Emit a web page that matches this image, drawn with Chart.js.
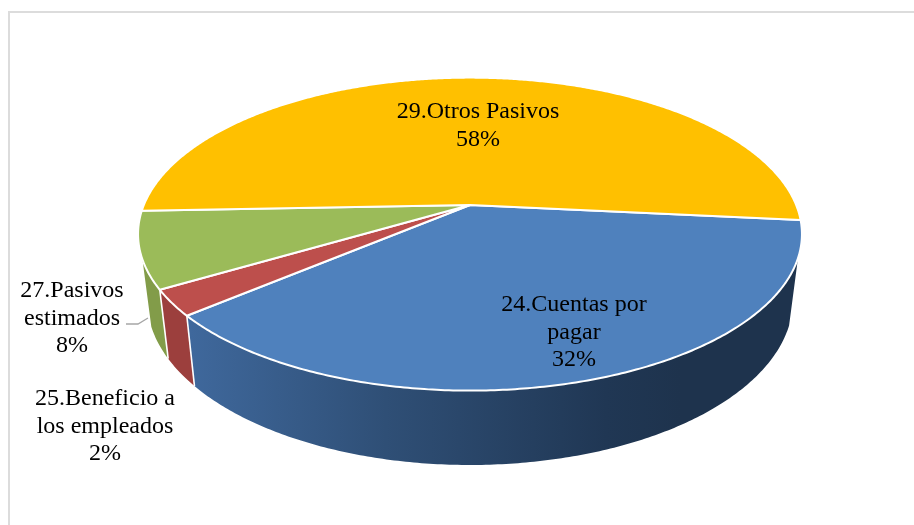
<!DOCTYPE html>
<html>
<head>
<meta charset="utf-8">
<style>
  html, body { margin: 0; background: #fff; }
  canvas { display: block; }
</style>
<script src="https://cdn.jsdelivr.net/npm/chart.js@4/dist/chart.umd.min.js"></script>
</head>
<body>
<canvas id="chart" width="914" height="525"></canvas>
<script>
// --- Data ---
const categories = ['24.Cuentas por pagar', '25.Beneficio a los empleados', '27.Pasivos estimados', '29.Otros Pasivos'];
// the picture only prints rounded percents, so the decimals are estimated from the slices
const shares = [31.9, 2.49, 7.8, 57.81];
const faceColors = ['#4f81bd', '#bd4f4c', '#9bbb59', '#ffc000'];
const wallColors = ['#1f3450', '#9c3f3d', '#829c49', '#bf9000'];
const labelLines = [['24.Cuentas por', 'pagar'], ['25.Beneficio a', 'los empleados'], ['27.Pasivos', 'estimados'], ['29.Otros Pasivos']];

// --- Layout (pixels) ---
const labelAnchors = [[574, 311], [105, 405], [72, 297], [478, 118]];
const LINE_HEIGHT = 27.6;
const FONT = '24px "Liberation Serif"';

// Perspective of the tilted disc, in units of the pie radius
const TILT = 0.186;
const TOP_RIM = { ax: 1.591, by: 0.737, dy: 0 };
const BOTTOM_RIM = { ax: 1.548, by: 0.777, dy: 0.3137 };
const WALL_MIN_SIN = 0.33; // wall is hidden behind the top face above this line

// Excel stretches the front of the pie and squeezes the back (degrees)
function viewAngle(theta) {
  const deg = 14.6 - 8.97 * Math.cos(theta) + 7.29 * Math.sin(theta);
  return theta + deg * Math.PI / 180;
}

function rimPoint(el, theta, rim) {
  const phi = viewAngle(theta);
  const u = Math.cos(phi);
  const v = Math.sin(phi);
  const w = 1 - TILT * v;
  const r = el.outerRadius;
  return [el.x + r * rim.ax * u / w, el.y + r * rim.dy + r * rim.by * v / w];
}

function sliceAngles(el) {
  const list = [];
  const steps = Math.max(2, Math.ceil((el.endAngle - el.startAngle) * 360 / Math.PI));
  for (let i = 0; i <= steps; i++) {
    list.push(el.startAngle + (el.endAngle - el.startAngle) * i / steps);
  }
  return list;
}

// --- Slice top face, drawn by the library's own arc pass ---
Chart.ArcElement.prototype.draw = function (ctx) {
  ctx.save();
  ctx.beginPath();
  ctx.moveTo(this.x, this.y);
  sliceAngles(this).forEach(t => {
    const p = rimPoint(this, t, TOP_RIM);
    ctx.lineTo(p[0], p[1]);
  });
  ctx.closePath();
  ctx.fillStyle = this.options.backgroundColor;
  ctx.fill();
  ctx.strokeStyle = '#fff';
  ctx.lineWidth = 2;
  ctx.lineJoin = 'round';
  ctx.stroke();
  ctx.restore();
};

// --- Side walls, frame, labels ---
const pie3d = {
  id: 'pie3d',
  beforeDraw(chart) {
    const ctx = chart.ctx;
    ctx.save();
    ctx.strokeStyle = '#dcdcdc';
    ctx.lineWidth = 2;
    ctx.beginPath();
    ctx.moveTo(9, 525);
    ctx.lineTo(9, 12);
    ctx.lineTo(914, 12);
    ctx.stroke();
    ctx.restore();
  },
  beforeDatasetsDraw(chart) {
    const ctx = chart.ctx;
    const arcs = chart.getDatasetMeta(0).data;
    ctx.save();
    arcs.forEach((el, i) => {
      const angles = sliceAngles(el).filter(t => Math.sin(viewAngle(t)) > WALL_MIN_SIN);
      if (angles.length < 2) return;
      const top = angles.map(t => rimPoint(el, t, TOP_RIM));
      const bottom = angles.map(t => rimPoint(el, t, BOTTOM_RIM)).reverse();
      ctx.beginPath();
      top.concat(bottom).forEach((p, j) => j ? ctx.lineTo(p[0], p[1]) : ctx.moveTo(p[0], p[1]));
      ctx.closePath();
      if (i === 0) {
        const g = ctx.createLinearGradient(190, 0, 680, 0);
        g.addColorStop(0, '#3f689c');
        g.addColorStop(0.4, '#2f4f76');
        g.addColorStop(0.85, '#203754');
        g.addColorStop(1, '#1e334d');
        ctx.fillStyle = g;
      } else {
        ctx.fillStyle = wallColors[i];
      }
      ctx.fill();
    });
    // white seams between the wall pieces
    ctx.strokeStyle = '#fff';
    ctx.lineWidth = 1.6;
    arcs.slice(0, 2).forEach(el => {
      const a = rimPoint(el, el.endAngle, TOP_RIM);
      const b = rimPoint(el, el.endAngle, BOTTOM_RIM);
      ctx.beginPath();
      ctx.moveTo(a[0], a[1]);
      ctx.lineTo(b[0], b[1]);
      ctx.stroke();
    });
    ctx.restore();
  },
  afterDatasetsDraw(chart) {
    const ctx = chart.ctx;
    ctx.save();
    // leader line for 27.Pasivos estimados
    ctx.strokeStyle = '#a6a6a6';
    ctx.lineWidth = 1.3;
    ctx.beginPath();
    ctx.moveTo(126, 324);
    ctx.lineTo(138, 324);
    ctx.lineTo(148, 318);
    ctx.stroke();

    ctx.font = FONT;
    ctx.fillStyle = '#000';
    ctx.textAlign = 'center';
    ctx.textBaseline = 'alphabetic';
    categories.forEach((name, i) => {
      const lines = labelLines[i].concat(Math.round(shares[i]) + '%');
      lines.forEach((t, j) => ctx.fillText(t, labelAnchors[i][0], labelAnchors[i][1] + j * LINE_HEIGHT));
    });
    ctx.restore();
  }
};

new Chart(document.getElementById('chart'), {
  type: 'pie',
  data: {
    labels: categories,
    datasets: [{ data: shares, backgroundColor: faceColors, borderWidth: 0 }]
  },
  options: {
    responsive: false,
    animation: false,
    rotation: 90,
    layout: { padding: { left: 26, right: 0, top: 0, bottom: 115 } },
    plugins: { legend: { display: false }, tooltip: { enabled: false } }
  },
  plugins: [pie3d]
});
</script>
</body>
</html>
